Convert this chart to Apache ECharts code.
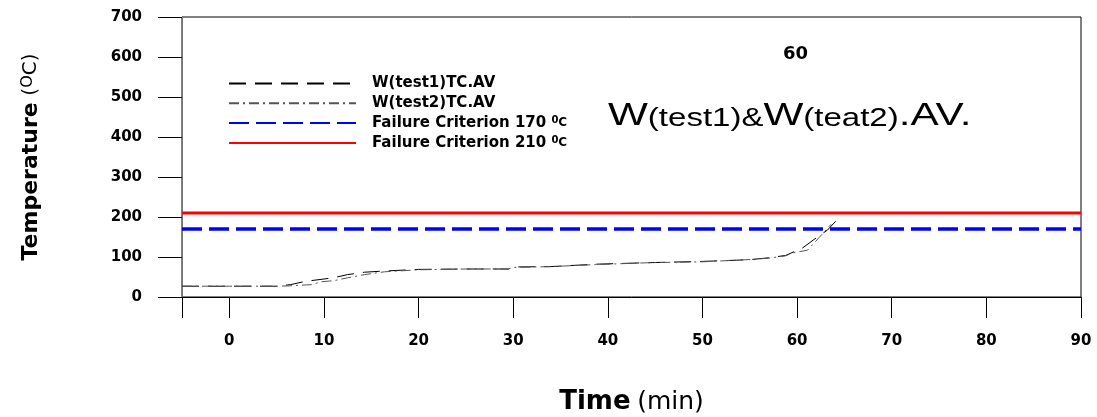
<!DOCTYPE html>
<html>
<head>
<meta charset="utf-8">
<script src="https://cdn.jsdelivr.net/npm/echarts@6/dist/echarts.min.js"></script>
<style>html,body{margin:0;padding:0;background:#fff}#c{width:1097px;height:417px}</style>
</head>
<body>
<div id="c"></div>
<script>
// ---- data ----
var timeTest1 = [-5, 0, 5, 6.5, 8, 10, 11, 12.5, 14.3, 16.4, 20, 25, 29.5, 30, 34, 38.7, 44.7, 50, 53.6, 55.3, 57, 58.8, 60.6, 61.8, 62.5, 63.2, 64.1];
var tempTest1 = [27, 27, 27, 31, 39, 45, 48, 56, 62, 65, 69, 70, 70, 75, 76, 82, 86, 89, 92, 94, 98, 104, 123, 144, 156, 167, 190];
var timeTest2 = [-5, 0, 5, 6.5, 8.7, 9.7, 11.1, 12.5, 14.3, 16.4, 20, 25, 29.5, 30, 34, 38.7, 44.7, 50, 53.6, 55.3, 57, 58.8, 59.5, 61.1, 62.3, 63.6];
var tempTest2 = [27, 27, 27, 28, 31, 38, 41, 48, 56, 63, 68, 70, 70, 74, 76, 81, 86, 88, 92, 94, 97, 103, 110, 117, 148, 182];
var failTime = [-5, 90];
var fail170 = [170, 170];
var fail210 = [210, 210];
var seriesNames = ['W(test1)TC.AV', 'W(test2)TC.AV', 'Failure Criterion 170 0C', 'Failure Criterion 210 0C'];
var xTicks = [0, 10, 20, 30, 40, 50, 60, 70, 80, 90];
var xMin = -5, xMax = 90, yMin = 0, yMax = 700, yStep = 100;
var chartTitle = '60';
var annotation = ['W', '(test1)&', 'W', '(teat2)', '.AV.'];

function pairs(xs, ys) { return xs.map(function (x, i) { return [x, ys[i]]; }); }

var chart = echarts.init(document.getElementById('c'), null, { renderer: 'canvas' });
var F = 'DejaVu Sans';
var option = {
  animation: false,
  backgroundColor: '#fff',
  title: {
    text: chartTitle, left: 783, top: 45, padding: 0,
    textStyle: { fontFamily: F, fontWeight: 'bold', fontSize: 18, color: '#000' }
  },
  grid: {
    left: 182, right: 16, top: 17, bottom: 120, containLabel: false, outerBoundsMode: 'none',
    show: true, borderColor: '#000', borderWidth: 1, backgroundColor: 'transparent'
  },
  legend: {
    orient: 'vertical', left: 223, top: 71, itemWidth: 127, itemHeight: 14, itemGap: 4.8,
    data: seriesNames,
    itemStyle: { opacity: 0 },
    formatter: function (name) {
      var m = name.match(/^(.*) 0C$/);
      if (m) return m[1] + ' {sup|0}{sm|C}';
      return name;
    },
    textStyle: {
      fontFamily: F, fontWeight: 'bold', fontSize: 15, color: '#000', padding: [0, 0, 0, 11],
      rich: {
        sup: { fontFamily: F, fontWeight: 'bold', fontSize: 10, verticalAlign: 'top', color: '#000' },
        sm: { fontFamily: F, fontWeight: 'bold', fontSize: 12, color: '#000' }
      }
    }
  },
  xAxis: {
    type: 'value', min: xMin, max: xMax, splitNumber: 10,
    name: '{b|Time}  {n|(min)}', nameLocation: 'middle', nameGap: 92,
    nameTextStyle: {
      rich: {
        b: { fontFamily: F, fontWeight: 'bold', fontSize: 26, color: '#000' },
        n: { fontFamily: F, fontSize: 25, color: '#000' }
      }
    },
    axisLine: { show: true, onZero: false, lineStyle: { color: '#000', width: 1 } },
    axisTick: { show: true, inside: false, length: 21, lineStyle: { color: '#000', width: 1 } },
    axisLabel: {
      customValues: xTicks, margin: 37, showMinLabel: true, showMaxLabel: true, hideOverlap: false,
      fontFamily: F, fontWeight: 'bold', fontSize: 15, color: '#000'
    },
    splitLine: { show: false }
  },
  yAxis: {
    type: 'value', min: yMin, max: yMax, interval: yStep,
    name: '{b|Temperature}  {n|(}{s|O}{n|C)}', nameLocation: 'middle', nameGap: 140,
    nameTextStyle: {
      rich: {
        b: { fontFamily: F, fontWeight: 'bold', fontSize: 22, color: '#000' },
        n: { fontFamily: F, fontSize: 20, color: '#000' },
        s: { fontFamily: F, fontSize: 16, color: '#000', verticalAlign: 'top' }
      }
    },
    axisLine: { show: true, onZero: false, lineStyle: { color: '#777', width: 1 } },
    axisTick: { show: true, inside: false, length: 24, lineStyle: { color: '#000' } },
    axisLabel: { margin: 40, fontFamily: F, fontWeight: 'bold', fontSize: 15, color: '#000' },
    splitLine: { show: false }
  },
  graphic: [{
    type: 'text', x: 608, y: 116, scaleX: 1.32, z: 10,
    style: {
      text: '{L|' + annotation[0] + '}{S|' + annotation[1] + '}{L|' + annotation[2] + '}{S|' + annotation[3] + '}{L|' + annotation[4] + '}',
      align: 'left', verticalAlign: 'middle',
      rich: {
        L: { fontFamily: 'Liberation Sans', fontSize: 32, fill: '#000', verticalAlign: 'bottom' },
        S: { fontFamily: 'Liberation Sans', fontSize: 25, fill: '#000', verticalAlign: 'bottom' }
      }
    }
  }],
  series: [
    {
      name: seriesNames[0], type: 'line', symbol: 'none', data: pairs(timeTest1, tempTest1),
      lineStyle: { color: '#000', width: 1, type: [17, 9] }, itemStyle: { color: '#000' }, z: 5
    },
    {
      name: seriesNames[1], type: 'line', symbol: 'none', data: pairs(timeTest2, tempTest2),
      lineStyle: { color: '#555', width: 1, type: [10, 4, 2, 4] }, itemStyle: { color: '#555' }, z: 5
    },
    {
      name: seriesNames[2], type: 'line', symbol: 'none', data: pairs(failTime, fail170),
      lineStyle: { color: '#0000ff', width: 3.5, type: [20, 7] }, itemStyle: { color: '#0000ff' }, z: 3
    },
    {
      name: seriesNames[3], type: 'line', symbol: 'none', data: pairs(failTime, fail210),
      lineStyle: { color: '#ff0000', width: 3 }, itemStyle: { color: '#ff0000' }, z: 3
    }
  ]
};
chart.setOption(option);
</script>
</body>
</html>
